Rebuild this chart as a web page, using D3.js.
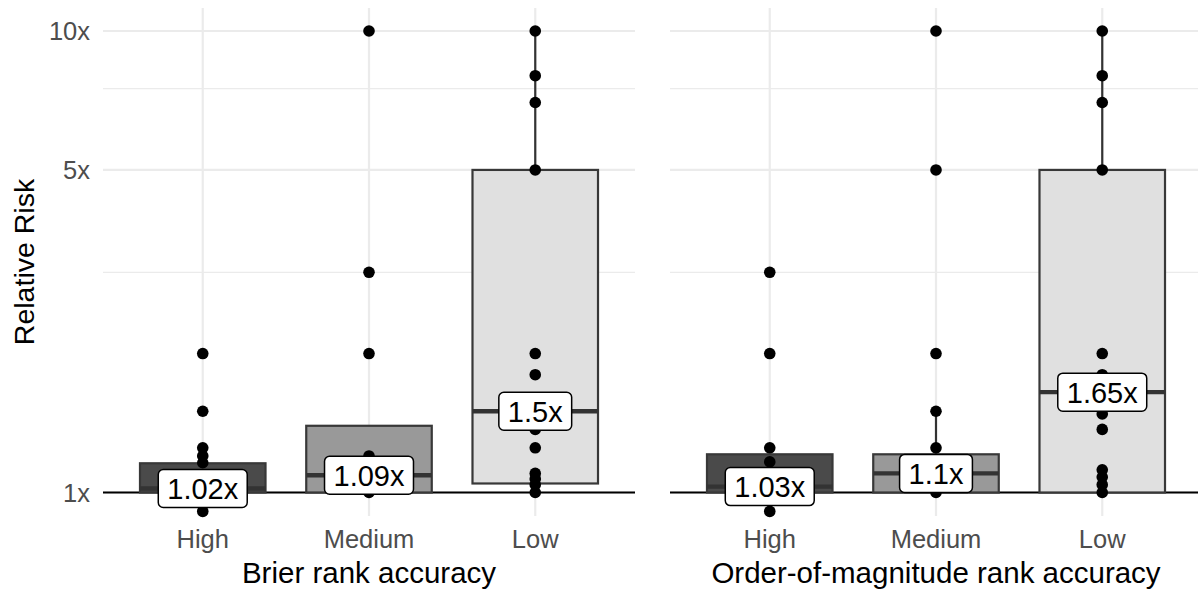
<!DOCTYPE html>
<html>
<head>
<meta charset="utf-8">
<script src="https://cdn.jsdelivr.net/npm/d3@7"></script>
<style>
  html, body { margin: 0; padding: 0; background: #fff; }
  svg { display: block; font-family: "Liberation Sans", Arial, sans-serif; }
</style>
</head>
<body>
<svg id="chart" width="1198" height="591"></svg>
<script>
// ---------------- data ----------------
const categories = ["High", "Medium", "Low"];
const facetTitles = ["Brier rank accuracy", "Order-of-magnitude rank accuracy"];
const yTicks = [1, 5, 10];
const yTickLabels = ["1x", "5x", "10x"];
const yMinorTicks = [3, 7.5];

// Brier panel: box statistics (High, Medium, Low)
const brierLower = [1.0, 1.0, 1.046];
const brierMedian = [1.02, 1.09, 1.5];
const brierUpper = [1.157, 1.395, 5];
const brierWhiskerLow = [1.0, 1.0, 1.0];
const brierWhiskerHigh = [1.157, 1.395, 10];
const brierLabels = ["1.02x", "1.09x", "1.5x"];
// Brier panel: individual relative risks
const brierHigh = [2.0, 1.5, 1.25, 1.2, 1.16, 1.0, 0.91];
const brierMedium = [10, 3, 2, 1.2, 1.0];
const brierLow = [10, 8, 7, 5, 2, 1.8, 1.5, 1.37, 1.25, 1.1, 1.07, 1.04, 1.0];

// Order-of-magnitude panel: box statistics
const oomLower = [1.0, 1.0, 1.0];
const oomMedian = [1.03, 1.1, 1.65];
const oomUpper = [1.21, 1.21, 5];
const oomWhiskerLow = [1.0, 1.0, 1.0];
const oomWhiskerHigh = [1.21, 1.5, 10];
const oomLabels = ["1.03x", "1.1x", "1.65x"];
// Order-of-magnitude panel: individual relative risks
const oomHigh = [3, 2, 1.25, 1.165, 1.0, 0.91];
const oomMedium = [10, 5, 2, 1.5, 1.25, 1.0];
const oomLow = [10, 8, 7, 5, 2, 1.8, 1.48, 1.37, 1.12, 1.08, 1.04, 1.0];

const fills = ["#4a4a4a", "#999999", "#e0e0e0"];

// ---------------- layout ----------------
const svg = d3.select("#chart");
const panelTop = 8, panelBottom = 516;
const panelsX = [[103, 635], [670, 1202]];

const y = d3.scaleLog().domain([1, 10]).range([492.5, 31]);

const panels = [
  { title: facetTitles[0], lower: brierLower, median: brierMedian, upper: brierUpper,
    wlo: brierWhiskerLow, whi: brierWhiskerHigh, labels: brierLabels,
    points: [brierHigh, brierMedium, brierLow] },
  { title: facetTitles[1], lower: oomLower, median: oomMedian, upper: oomUpper,
    wlo: oomWhiskerLow, whi: oomWhiskerHigh, labels: oomLabels,
    points: [oomHigh, oomMedium, oomLow] }
];

panels.forEach((p, pi) => {
  const [x0, x1] = panelsX[pi];
  const x = d3.scalePoint().domain(categories).range([x0, x1]).padding(0.6);
  const step = x.step();
  const boxW = step * 0.755;
  const g = svg.append("g");

  // minor grid
  g.selectAll("line.minor").data(yMinorTicks).join("line")
    .attr("x1", x0).attr("x2", x1)
    .attr("y1", d => y(d)).attr("y2", d => y(d))
    .attr("stroke", "#ebebeb").attr("stroke-width", 1.2);
  // major grid
  g.selectAll("line.majory").data(yTicks).join("line")
    .attr("x1", x0).attr("x2", x1)
    .attr("y1", d => y(d)).attr("y2", d => y(d))
    .attr("stroke", "#ebebeb").attr("stroke-width", 2.2);
  g.selectAll("line.majorx").data(categories).join("line")
    .attr("x1", d => x(d)).attr("x2", d => x(d))
    .attr("y1", panelTop).attr("y2", panelBottom)
    .attr("stroke", "#ebebeb").attr("stroke-width", 2.2);

  // reference line at 1x
  g.append("line")
    .attr("x1", x0).attr("x2", x1)
    .attr("y1", y(1)).attr("y2", y(1))
    .attr("stroke", "#000").attr("stroke-width", 2.2);

  // whiskers
  categories.forEach((c, i) => {
    if (p.whi[i] > p.upper[i]) {
      g.append("line").attr("x1", x(c)).attr("x2", x(c))
        .attr("y1", y(p.upper[i])).attr("y2", y(p.whi[i]))
        .attr("stroke", "#333").attr("stroke-width", 2.2);
    }
    if (p.wlo[i] < p.lower[i]) {
      g.append("line").attr("x1", x(c)).attr("x2", x(c))
        .attr("y1", y(p.lower[i])).attr("y2", y(p.wlo[i]))
        .attr("stroke", "#333").attr("stroke-width", 2.2);
    }
  });

  // boxes
  g.selectAll("rect.box").data(categories).join("rect")
    .attr("x", d => x(d) - boxW / 2)
    .attr("width", boxW)
    .attr("y", (d, i) => y(p.upper[i]))
    .attr("height", (d, i) => y(p.lower[i]) - y(p.upper[i]))
    .attr("fill", (d, i) => fills[i])
    .attr("stroke", "#383838").attr("stroke-width", 2.2);
  // medians
  g.selectAll("line.med").data(categories).join("line")
    .attr("x1", d => x(d) - boxW / 2).attr("x2", d => x(d) + boxW / 2)
    .attr("y1", (d, i) => y(p.median[i])).attr("y2", (d, i) => y(p.median[i]))
    .attr("stroke", "#333").attr("stroke-width", 4.4);

  // points
  categories.forEach((c, i) => {
    g.selectAll(null).data(p.points[i]).join("circle")
      .attr("cx", x(c)).attr("cy", d => y(d)).attr("r", 5.8)
      .attr("fill", "#000");
  });

  // median labels
  categories.forEach((c, i) => {
    const lg = g.append("g").attr("transform", `translate(${x(c)},${y(p.median[i])})`);
    const t = lg.append("text").text(p.labels[i])
      .attr("text-anchor", "middle").attr("dy", "0.36em")
      .attr("font-size", 29).attr("fill", "#000");
    const w = t.node().getComputedTextLength() + 18;
    lg.insert("rect", "text")
      .attr("x", -w / 2).attr("y", -19).attr("width", w).attr("height", 38)
      .attr("rx", 5).attr("ry", 5)
      .attr("fill", "#fff").attr("stroke", "#000").attr("stroke-width", 1.5);
  });

  // x tick labels
  g.selectAll("text.xt").data(categories).join("text")
    .attr("x", d => x(d)).attr("y", 548)
    .attr("text-anchor", "middle").attr("font-size", 25.5).attr("fill", "#4d4d4d")
    .text(d => d);

  // x title
  g.append("text").attr("x", (x0 + x1) / 2).attr("y", 583)
    .attr("text-anchor", "middle").attr("font-size", 29.5).attr("fill", "#000")
    .text(p.title);

  // y tick labels (first panel only)
  if (pi === 0) {
    g.selectAll("text.yt").data(yTicks).join("text")
      .attr("x", 90).attr("y", d => y(d)).attr("dy", "0.36em")
      .attr("text-anchor", "end").attr("font-size", 25.5).attr("fill", "#4d4d4d")
      .text((d, i) => yTickLabels[i]);
  }
});

// y title
svg.append("text")
  .attr("transform", `translate(33.5,${(panelTop + panelBottom) / 2}) rotate(-90)`)
  .attr("text-anchor", "middle").attr("font-size", 28.5).attr("fill", "#000")
  .text("Relative Risk");
</script>
</body>
</html>
